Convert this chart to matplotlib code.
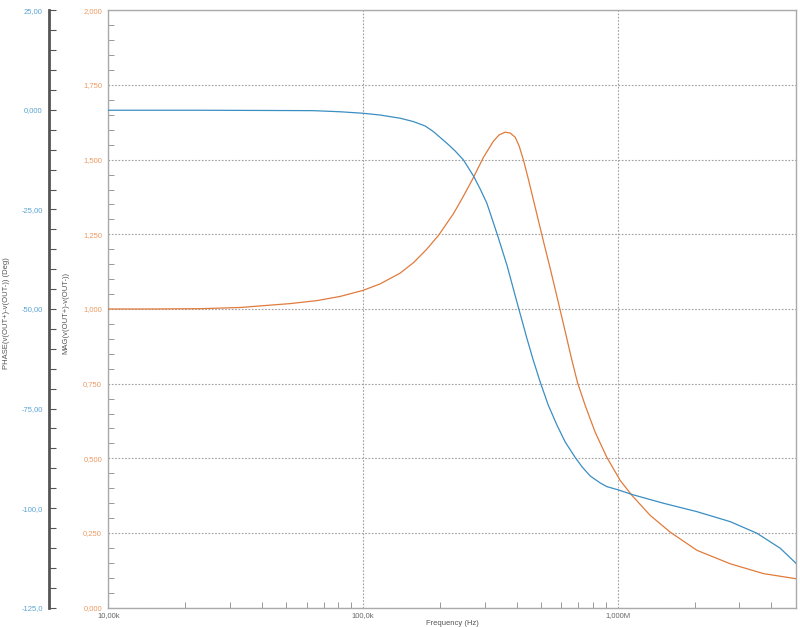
import matplotlib.pyplot as plt
import matplotlib.ticker as mticker
import numpy as np

plt.rcParams['font.family'] = ['Liberation Sans', 'DejaVu Sans']

# magnitude curve
mag_freq = [10.0e3, 14.58e3, 22.91e3, 32.89e3, 41.87e3, 51.68e3, 65.81e3, 81.23e3,
            99.7e3, 116.6e3, 139.7e3, 157.6e3, 176.8e3, 197.5e3, 226.2e3, 244.7e3,
            267.2e3, 296.8e3, 324.8e3, 342.0e3, 361.1e3, 377.7e3, 395.3e3, 409.8e3,
            426.1e3, 444.5e3, 466.3e3, 510.4e3, 542.3e3, 577.7e3, 621.0e3, 655.7e3,
            694.0e3, 744.1e3, 814.6e3, 905.4e3, 1.021e6, 1.135e6, 1.339e6, 1.604e6,
            2.043e6, 2.760e6, 3.730e6, 5.0e6]
mag_vals = [1.000, 1.000, 1.001, 1.005, 1.012, 1.018, 1.028, 1.042,
            1.062, 1.084, 1.120, 1.155, 1.198, 1.246, 1.319, 1.370,
            1.430, 1.508, 1.562, 1.583, 1.592, 1.589, 1.575, 1.545,
            1.498, 1.437, 1.364, 1.226, 1.136, 1.038, 0.925, 0.838,
            0.754, 0.677, 0.587, 0.503, 0.426, 0.376, 0.309, 0.253,
            0.192, 0.147, 0.114, 0.097]

# phase curve (deg)
ph_freq = [10.0e3, 22.91e3, 39.41e3, 63.65e3, 81.23e3, 99.7e3, 116.6e3, 139.7e3,
           157.6e3, 175.2e3, 188.8e3, 213.2e3, 229.7e3, 247.6e3, 271.1e3, 288.0e3,
           306.0e3, 335.0e3, 366.7e3, 401.4e3, 439.3e3, 465.1e3, 495.4e3, 532.6e3,
           576.1e3, 621.0e3, 679.8e3, 724.1e3, 778.6e3, 852.2e3, 905.4e3, 1.006e6,
           1.135e6, 1.510e6, 2.043e6, 2.760e6, 3.513e6, 4.337e6, 5.0e6]
ph_vals = [-0.1, -0.1, -0.15, -0.2, -0.48, -0.85, -1.3, -2.1,
           -2.95, -4.05, -5.47, -8.39, -10.32, -12.58, -16.60, -19.86,
           -23.45, -30.99, -38.95, -48.24, -57.35, -62.80, -68.32, -74.10,
           -79.12, -83.39, -87.28, -89.67, -91.93, -93.68, -94.61, -95.44,
           -96.57, -98.78, -100.89, -103.40, -106.31, -110.08, -113.85]

mag_ticks = [0, 0.25, 0.5, 0.75, 1.0, 1.25, 1.5, 1.75, 2.0]
mag_labels = ["0,000", "0,250", "0,500", "0,750", "1,000", "1,250", "1,500", "1,750", "2,000"]
ph_ticks = [-125, -100, -75, -50, -25, 0, 25]
ph_labels = ["-125,0", "-100,0", "-75,00", "-50,00", "-25,00", "0,000", "25,00"]
f_ticks = [10e3, 100e3, 1e6]
f_labels = ["10,00k", "100,0k", "1,000M"]

blue = '#3b8ec2'
orange = '#e07b3c'
blue_lbl = '#5aa3d3'
orange_lbl = '#eb9a62'
gray = '#a0a0a0'

fig = plt.figure(figsize=(8, 6.27), dpi=100)
ax = fig.add_axes([0.1354, 0.0308, 0.8596, 0.9528])
ax2 = ax.twinx()

ax.plot(mag_freq, mag_vals, color=orange, lw=0.9, zorder=3)
ax2.plot(ph_freq, ph_vals, color=blue, lw=0.9, zorder=3)

ax.set_xscale('log')
ax.set_xlim(10e3, 5e6)
ax.set_ylim(0, 2)
ax2.set_ylim(-125, 25)

ax.set_xticks(f_ticks)
ax.set_xticklabels(f_labels)
ax.xaxis.set_minor_locator(mticker.LogLocator(base=10, subs=np.arange(2, 10)))
ax.xaxis.set_minor_formatter(mticker.NullFormatter())
ax.set_yticks(mag_ticks)
ax.set_yticklabels(mag_labels)
ax.yaxis.set_minor_locator(mticker.MultipleLocator(0.05))

ax.grid(True, which='major', color=gray, linestyle=(0, (1.5, 1.5)), lw=0.8)
ax.tick_params(axis='x', which='both', direction='in', colors='#888888',
               labelcolor='#666666', labelsize=5.5, pad=3)
ax.tick_params(axis='x', which='minor', length=4)
ax.tick_params(axis='x', which='major', length=0)
ax.tick_params(axis='y', which='both', direction='in', colors='#888888',
               labelcolor=orange_lbl, labelsize=5.5, pad=4.5)
ax.tick_params(axis='y', which='minor', length=4)
ax.tick_params(axis='y', which='major', length=0)
for s in ['top', 'right', 'bottom', 'left']:
    ax.spines[s].set_color('#aaaaaa')
    ax.spines[s].set_linewidth(1)

# phase axis on the far left
ax2.yaxis.tick_left()
ax2.yaxis.set_label_position('left')
ax2.spines['left'].set_position(('axes', -0.0862))
ax2.spines['left'].set_color('#555555')
ax2.spines['left'].set_linewidth(2)
for s in ['top', 'right', 'bottom']:
    ax2.spines[s].set_visible(False)
ax2.set_yticks(ph_ticks)
ax2.set_yticklabels(ph_labels)
ax2.yaxis.set_minor_locator(mticker.MultipleLocator(5))
ax2.tick_params(axis='y', which='both', direction='in', length=5, width=0.8,
                colors='#555555', labelcolor=blue_lbl, labelsize=5.5, pad=4.5)

ax.set_xlabel('Frequency (Hz)', fontsize=5.5, color='#555555', labelpad=1)
fig.text(0.0085, 0.5008, 'PHASE(v(OUT+)-v(OUT-)) (Deg)', rotation=90, fontsize=5.5,
         color='#555555', ha='center', va='center')
fig.text(0.082, 0.5008, 'MAG(v(OUT+)-v(OUT-))', rotation=90, fontsize=5.5,
         color='#555555', ha='center', va='center')

fig.savefig('out.png', dpi=100)
